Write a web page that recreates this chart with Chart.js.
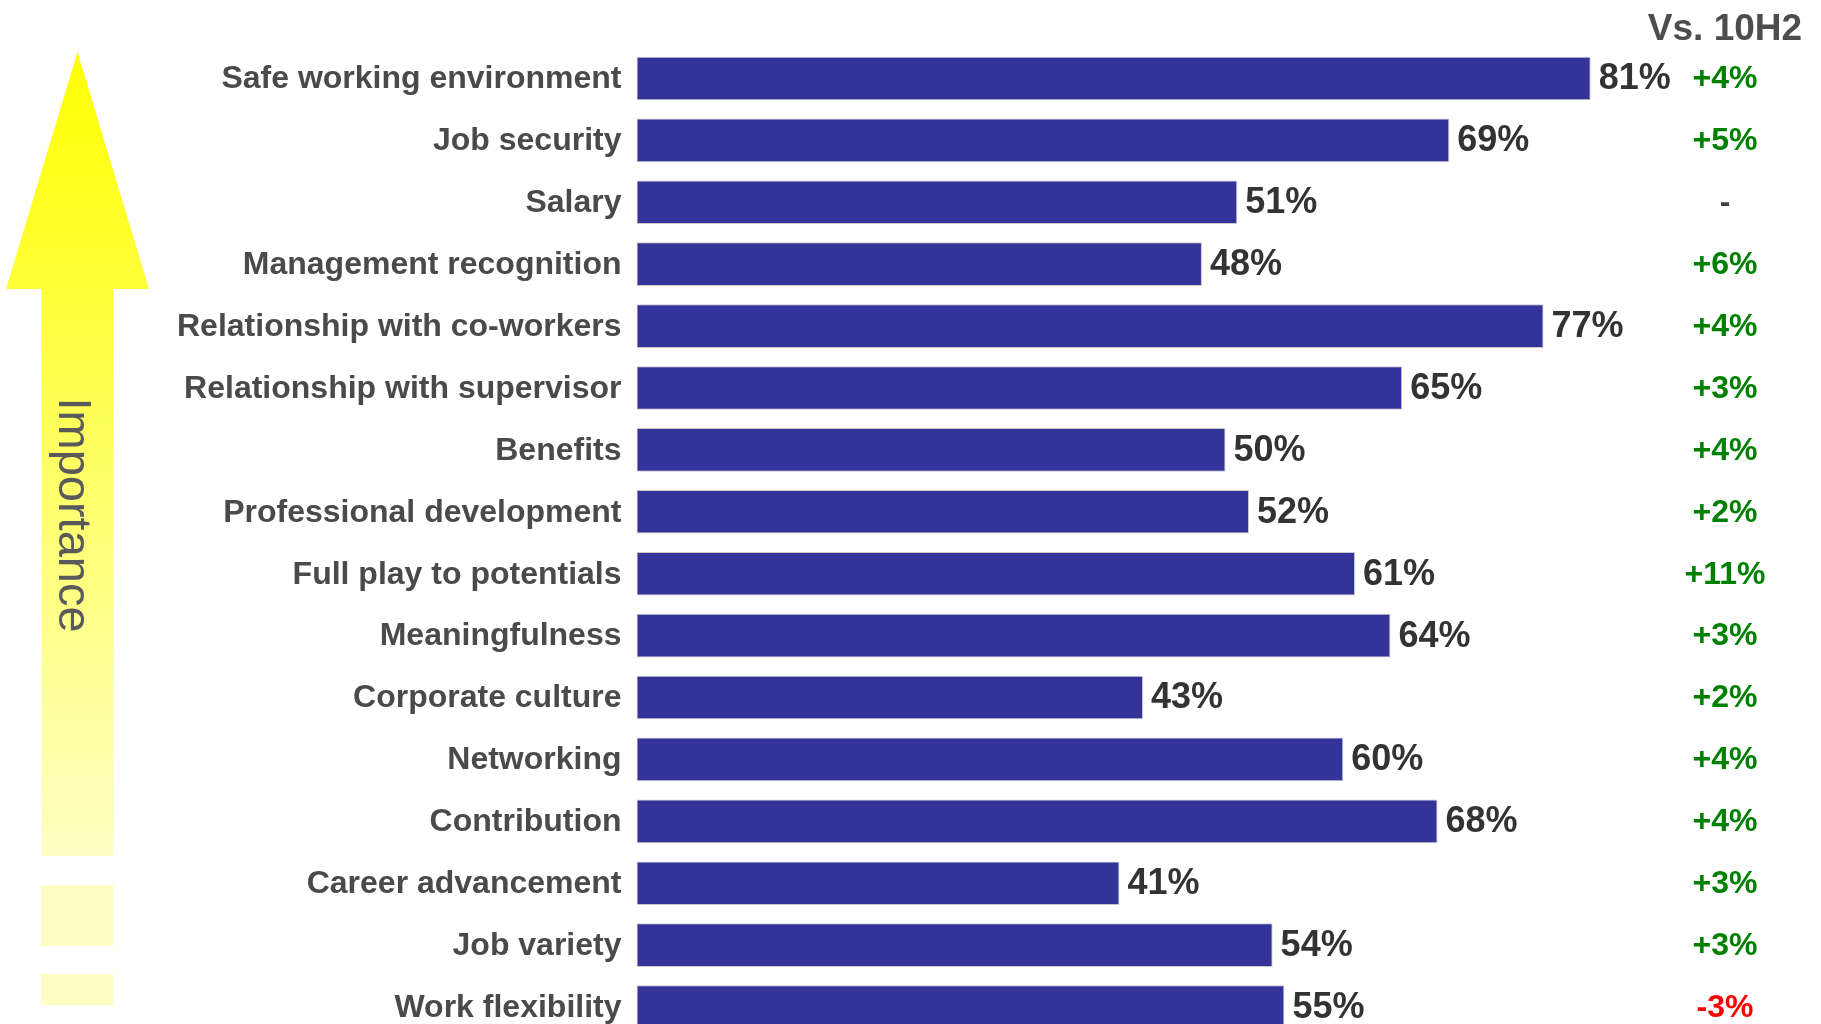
<!DOCTYPE html>
<html>
<head>
<meta charset="utf-8">
<script src="https://cdn.jsdelivr.net/npm/chart.js@4/dist/chart.umd.min.js"></script>
<style>
  html, body { margin: 0; padding: 0; background: #fff; overflow: hidden; width: 1821px; height: 1024px; }
  #wrap { position: absolute; left: 0; top: 0; width: 1821px; height: 1045px; }
</style>
</head>
<body>
<div id="wrap"><canvas id="c" width="1821" height="1045"></canvas></div>
<script>
const categories = [
  "Safe working environment", "Job security", "Salary", "Management recognition",
  "Relationship with co-workers", "Relationship with supervisor", "Benefits",
  "Professional development", "Full play to potentials", "Meaningfulness",
  "Corporate culture", "Networking", "Contribution", "Career advancement",
  "Job variety", "Work flexibility"
];
const values = [81, 69, 51, 48, 77, 65, 50, 52, 61, 64, 43, 60, 68, 41, 54, 55];
const changes = ["+4%", "+5%", "-", "+6%", "+4%", "+3%", "+4%", "+2%", "+11%", "+3%", "+2%", "+4%", "+4%", "+3%", "+3%", "-3%"];
const changeHeader = "Vs. 10H2";
const arrowLabel = "Importance";

const FONT = '"Liberation Sans", Arial, sans-serif';

const decor = {
  id: 'decor',
  beforeDatasetsDraw(chart) {
    const ctx = chart.ctx;
    ctx.save();
    // Arrow
    const g = ctx.createLinearGradient(0, 52, 0, 856);
    g.addColorStop(0, '#ffff00');
    g.addColorStop(1, '#ffffc4');
    ctx.fillStyle = g;
    ctx.beginPath();
    ctx.moveTo(77.5, 52);
    ctx.lineTo(149, 289);
    ctx.lineTo(113.5, 289);
    ctx.lineTo(113.5, 856);
    ctx.lineTo(41.5, 856);
    ctx.lineTo(41.5, 289);
    ctx.lineTo(6, 289);
    ctx.closePath();
    ctx.fill();
    ctx.fillStyle = '#ffffc4';
    ctx.fillRect(41, 885, 72.5, 61);
    ctx.fillRect(41, 974, 72.5, 31);
    // Rotated text
    ctx.translate(59, 515);
    ctx.rotate(Math.PI / 2);
    ctx.fillStyle = '#5a5a5a';
    ctx.font = '47px ' + FONT;
    ctx.textAlign = 'center';
    ctx.textBaseline = 'alphabetic';
    ctx.fillText(arrowLabel, 0, 0);
    ctx.restore();
  },
  afterDatasetsDraw(chart) {
    const ctx = chart.ctx;
    const meta = chart.getDatasetMeta(0);
    const yScale = chart.scales.y;
    ctx.save();
    ctx.textBaseline = 'middle';
    // value labels
    ctx.font = 'bold 36px ' + FONT;
    ctx.fillStyle = '#333333';
    ctx.textAlign = 'left';
    meta.data.forEach((bar, i) => {
      ctx.fillText(values[i] + '%', bar.x + 8, bar.y + 1);
    });
    // change labels
    ctx.font = 'bold 32px ' + FONT;
    ctx.textAlign = 'center';
    changes.forEach((c, i) => {
      const y = yScale.getPixelForValue(i);
      ctx.fillStyle = c.startsWith('+') ? '#008000' : (c === '-' ? '#404040' : '#ff0000');
      ctx.fillText(c, 1725, y + 1);
    });
    // header
    ctx.font = 'bold 37px ' + FONT;
    ctx.fillStyle = '#4d4d4d';
    ctx.textBaseline = 'alphabetic';
    ctx.fillText(changeHeader, 1725, 40);
    ctx.restore();
  }
};

new Chart(document.getElementById('c'), {
  type: 'bar',
  data: {
    labels: categories,
    datasets: [{
      data: values,
      backgroundColor: '#333399',
      borderColor: '#c8c8c8',
      borderWidth: 1,
      borderSkipped: false,
      barPercentage: 0.705,
      categoryPercentage: 1
    }]
  },
  options: {
    indexAxis: 'y',
    responsive: false,
    animation: false,
    devicePixelRatio: 1,
    layout: { padding: { left: 0, right: 6.5, top: 47.5, bottom: 7 } },
    plugins: { legend: { display: false }, tooltip: { enabled: false } },
    scales: {
      x: { display: false, min: 0, max: 100 },
      y: {
        grid: { display: false, drawTicks: false },
        border: { display: false },
        ticks: {
          color: '#4a4a4a',
          font: { family: FONT, size: 32, weight: 'bold' },
          padding: 15,
          labelOffset: 1,
          autoSkip: false
        },
        afterFit(scale) {
          scale.width = 636.5;
          scale.paddingTop = 0;
          scale.paddingBottom = 0;
        }
      }
    }
  },
  plugins: [decor]
});
</script>
</body>
</html>
